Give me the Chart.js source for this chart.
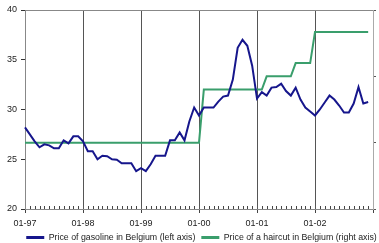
<!DOCTYPE html>
<html>
<head>
<meta charset="utf-8">
<script src="https://cdn.jsdelivr.net/npm/chart.js@4"></script>
<style>
  html, body { margin: 0; padding: 0; background: #fff; }
</style>
</head>
<body>
<canvas id="chart" width="379" height="243"></canvas>
<script>
// year labels on the x axis (one every 12 months)
const yearLabels = ['01-97', '01-98', '01-99', '01-00', '01-01', '01-02'];

// monthly price of gasoline, Jan 97 .. Dec 02 (left axis)
const gasoline = [
  28.2, 27.5, 26.8, 26.2, 26.5, 26.4, 26.1, 26.1, 26.9, 26.6, 27.3, 27.3,
  26.8, 25.8, 25.8, 25.0, 25.35, 25.3, 25.0, 24.95, 24.6, 24.6, 24.6, 23.8,
  24.1, 23.8, 24.5, 25.35, 25.35, 25.35, 26.9, 26.9, 27.7, 26.9, 28.8, 30.2,
  29.4, 30.2, 30.2, 30.2, 30.8, 31.3, 31.4, 33.0, 36.2, 37.0, 36.4, 34.4,
  31.1, 31.75, 31.4, 32.2, 32.25, 32.6, 31.85, 31.4, 32.2, 31.0, 30.2, 29.8,
  29.4, 30.0, 30.7, 31.4, 31.0, 30.4, 29.7, 29.7, 30.6, 32.25, 30.6, 30.75
];

// monthly price of a haircut (right axis)
const haircut = [
  12.0, 12.0, 12.0, 12.0, 12.0, 12.0, 12.0, 12.0, 12.0, 12.0, 12.0, 12.0,
  12.0, 12.0, 12.0, 12.0, 12.0, 12.0, 12.0, 12.0, 12.0, 12.0, 12.0, 12.0,
  12.0, 12.0, 12.0, 12.0, 12.0, 12.0, 12.0, 12.0, 12.0, 12.0, 12.0, 12.0,
  12.0, 14.4, 14.4, 14.4, 14.4, 14.4, 14.4, 14.4, 14.4, 14.4, 14.4, 14.4,
  14.4, 14.4, 15.0, 15.0, 15.0, 15.0, 15.0, 15.0, 15.6, 15.6, 15.6, 15.6,
  17.0, 17.0, 17.0, 17.0, 17.0, 17.0, 17.0, 17.0, 17.0, 17.0, 17.0, 17.0
];

const leftMin = 20, leftMax = 40, leftStep = 5;
const rightMin = 9, rightMax = 18, rightStep = 3;

// 73 category slots: Jan 97 .. Jan 03, labelled once a year
const monthLabels = [];
for (let m = 0; m <= 72; m++) {
  monthLabels.push(m % 12 === 0 && yearLabels[m / 12] ? yearLabels[m / 12] : '');
}

const BLUE = '#16168c';
const GREEN = '#3a9e6c';

// small month ticks pointing up from the x axis
const monthTicks = {
  id: 'monthTicks',
  afterDraw(chart) {
    const x = chart.scales.x;
    const ctx = chart.ctx;
    const bottom = chart.chartArea.bottom;
    ctx.save();
    ctx.strokeStyle = '#444';
    ctx.lineWidth = 1;
    ctx.beginPath();
    for (let i = 1; i < 72; i++) {
      if (i % 12 === 0) continue;
      const px = Math.round(x.getPixelForTick(i)) + 0.5;
      ctx.moveTo(px, bottom);
      ctx.lineTo(px, bottom - 3);
    }
    ctx.stroke();
    ctx.restore();
  },
};

Chart.defaults.font.family = '"Liberation Sans", Arial, sans-serif';
Chart.defaults.font.size = 9;
Chart.defaults.color = '#222';

new Chart(document.getElementById('chart'), {
  type: 'line',
  data: {
    labels: monthLabels,
    datasets: [
      {
        label: 'Price of gasoline in Belgium (left axis)',
        data: gasoline,
        yAxisID: 'y',
        borderColor: BLUE,
        backgroundColor: BLUE,
        borderWidth: 2,
        pointRadius: 0,
        tension: 0,
      },
      {
        label: 'Price of a haircut in Belgium (right axis)',
        data: haircut,
        yAxisID: 'y1',
        borderColor: GREEN,
        backgroundColor: GREEN,
        borderWidth: 2,
        pointRadius: 0,
        tension: 0,
      },
    ],
  },
  options: {
    responsive: false,
    animation: false,
    // negative right padding pushes the centred legend to the right,
    // the wide right axis box brings the plot edge back to x=375
    layout: { padding: { left: 0, right: -24, top: 10, bottom: -8.8 } },
    scales: {
      x: {
        offset: false,
        afterFit: (scale) => { scale.height = 18; },
        ticks: { autoSkip: false, maxRotation: 0, padding: 6, color: '#222', font: { size: 9, lineHeight: 1 } },
        grid: {
          color: (ctx) => (ctx.index % 12 === 0 && ctx.index > 0 && ctx.index < 72 ? '#555' : 'rgba(0,0,0,0)'),
          tickColor: (ctx) => (ctx.index % 12 === 0 ? '#444' : 'rgba(0,0,0,0)'),
          tickLength: 4,
        },
        border: { color: '#888' },
      },
      y: {
        position: 'left',
        min: leftMin,
        max: leftMax,
        afterFit: (scale) => { scale.width = 25; },
        ticks: { stepSize: leftStep, padding: 4, color: '#222' },
        grid: {
          color: (ctx) => (ctx.tick && ctx.tick.value === leftMax ? '#888' : 'rgba(0,0,0,0)'),
          tickColor: '#333',
          tickLength: 4,
        },
        border: { color: '#888' },
      },
      y1: {
        position: 'right',
        min: rightMin,
        max: rightMax,
        afterFit: (scale) => { scale.width = 28; },
        ticks: { stepSize: rightStep, display: false },
        grid: { drawOnChartArea: false, tickColor: '#555', tickLength: 3 },
        border: { color: '#aaa' },
      },
    },
    plugins: {
      tooltip: { enabled: false },
      legend: {
        position: 'bottom',
        labels: {
          usePointStyle: true,
          pointStyle: 'line',
          pointStyleWidth: 18,
          padding: 6,
          color: '#222',
          font: { size: 8.8 },
          generateLabels: (chart) =>
            Chart.defaults.plugins.legend.labels.generateLabels(chart).map((item) => ({ ...item, lineWidth: 3 })),
        },
      },
    },
  },
  plugins: [monthTicks],
});
</script>
</body>
</html>
